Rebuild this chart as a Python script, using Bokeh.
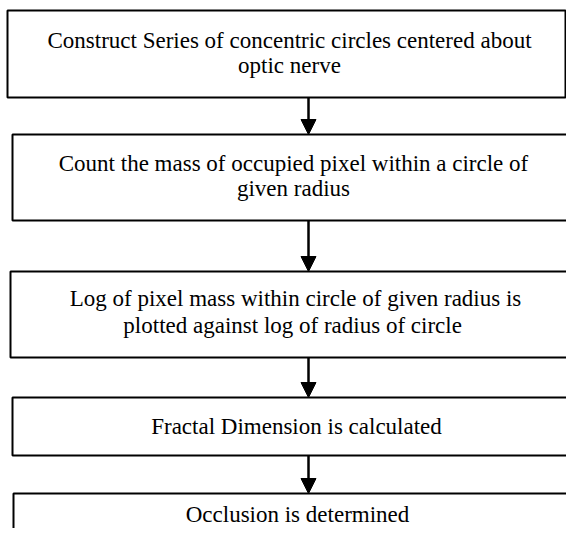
from bokeh.plotting import figure
from bokeh.models import Range1d, ColumnDataSource, Arrow, NormalHead
from bokeh.core.properties import value
from bokeh.embed import file_html
from bokeh.resources import INLINE

# Flowchart steps (text lines per box)
steps = [
    ["Construct Series of concentric circles centered about", "optic nerve"],
    ["Count the mass of occupied pixel within a circle of", "given radius"],
    ["Log of pixel mass within circle of given radius is", "plotted against  log of radius of circle"],
    ["Fractal Dimension is calculated"],
    ["Occlusion is determined"],
]

# layout (image pixel coordinates)
box_left = [7, 12, 10, 12, 13]
box_right = [565, 590, 590, 590, 590]
box_top = [10, 134, 271, 397, 493]
box_bottom = [97, 220, 357, 455, 560]
text_y = [[40, 65], [163, 188], [298, 325], [426], [514]]
text_x = [289, 293, 295, 296, 297]
arrow_x = 308

p = figure(width=566, height=528, output_backend="svg", toolbar_location=None,
           x_range=Range1d(0, 566), y_range=Range1d(528, 0),
           min_border=0, outline_line_color=None)
p.axis.visible = False
p.grid.visible = False
p.background_fill_color = "white"
p.border_fill_color = "white"

boxes = ColumnDataSource(dict(left=box_left, right=box_right, top=box_top, bottom=box_bottom))
p.quad(left="left", right="right", top="top", bottom="bottom", source=boxes,
       fill_color=None, line_color="black", line_width=2)

tx, ty, tt = [], [], []
for lines, ys, xc in zip(steps, text_y, text_x):
    for s, y in zip(lines, ys):
        tx.append(xc)
        ty.append(y)
        tt.append(s)
p.text(x=tx, y=ty, text=tt, text_font=value("Liberation Serif"), text_font_size="23px",
       text_align="center", text_baseline="middle", text_color="black")

arr = ColumnDataSource(dict(x0=[arrow_x] * 4, y0=box_bottom[:4], x1=[arrow_x] * 4, y1=box_top[1:]))
p.add_layout(Arrow(end=NormalHead(size=15, fill_color="black", line_color="black"),
                   x_start="x0", y_start="y0", x_end="x1", y_end="y1", source=arr,
                   line_color="black", line_width=2.5))

open("out.html", "w").write(file_html(p, INLINE))
